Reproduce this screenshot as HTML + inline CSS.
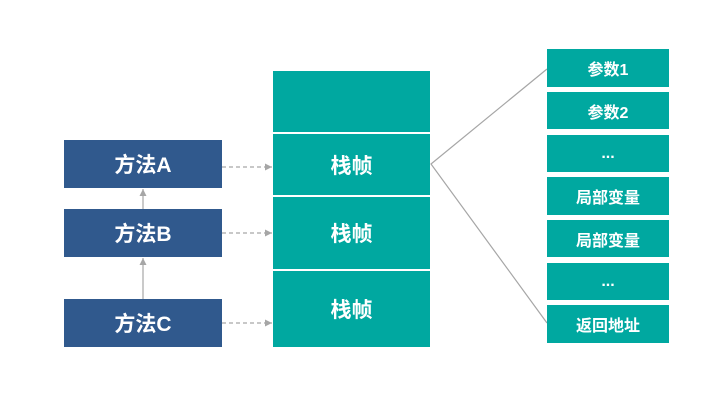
<!DOCTYPE html>
<html><head><meta charset="utf-8"><style>
body{margin:0;width:711px;height:412px;background:#fff;position:relative;overflow:hidden;font-family:"Liberation Sans","Noto Sans CJK SC",sans-serif;font-weight:bold;color:#fff}
.b{position:absolute;display:flex;align-items:center;justify-content:center}
.m{background:#30598d;left:64px;width:158px;height:48px;font-size:21px}
.s{background:#00a8a0;left:273px;width:157px;font-size:21px}
.r{background:#00a8a0;left:547px;width:122px;font-size:16px}
</style></head><body>
<svg width="711" height="412" style="position:absolute;left:0;top:0">
<defs><marker id="a" markerWidth="8" markerHeight="8" refX="7" refY="4" orient="auto" markerUnits="userSpaceOnUse"><path d="M0,0.5 L7,4 L0,7.5z" fill="#a6a6a6"/></marker></defs>
<g stroke="#a6a6a6" stroke-width="1.2" fill="none">
<line x1="222" y1="167" x2="272" y2="167" stroke-dasharray="4,3" marker-end="url(#a)"/>
<line x1="222" y1="233" x2="272" y2="233" stroke-dasharray="4,3" marker-end="url(#a)"/>
<line x1="222" y1="323" x2="272" y2="323" stroke-dasharray="4,3" marker-end="url(#a)"/>
<line x1="143" y1="209" x2="143" y2="189" marker-end="url(#a)"/>
<line x1="143" y1="299" x2="143" y2="258" marker-end="url(#a)"/>
<polyline points="547,69 431,164 547,323"/>
</g></svg>
<div class="b m" style="top:140px">方法A</div>
<div class="b m" style="top:209px">方法B</div>
<div class="b m" style="top:299px">方法C</div>
<div class="b s" style="top:71px;height:61px"></div>
<div class="b s" style="top:134px;height:61px">栈帧</div>
<div class="b s" style="top:197px;height:72px">栈帧</div>
<div class="b s" style="top:271px;height:76px">栈帧</div>
<div class="b r" style="top:49px;height:38px">参数1</div>
<div class="b r" style="top:92px;height:37px">参数2</div>
<div class="b r" style="top:135px;height:37px">...</div>
<div class="b r" style="top:177px;height:38px">局部变量</div>
<div class="b r" style="top:220px;height:37px">局部变量</div>
<div class="b r" style="top:263px;height:37px">...</div>
<div class="b r" style="top:305px;height:38px">返回地址</div>
</body></html>
